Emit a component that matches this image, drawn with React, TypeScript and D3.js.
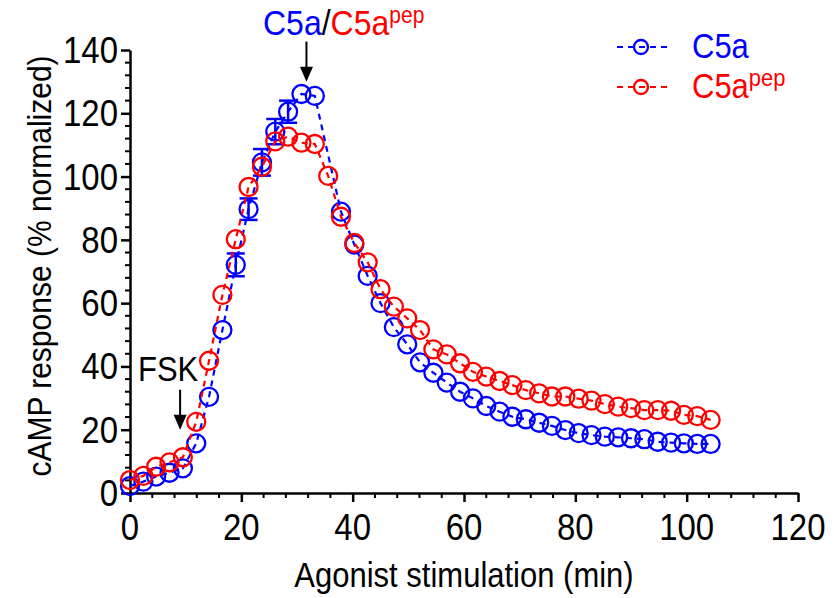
import React, { useEffect, useRef } from 'react';
import * as d3 from 'd3';

// sampling times (min)
const times = [
  0, 2.4, 4.7, 7.1, 9.5, 11.9, 14.2, 16.6, 19.0, 21.3, 23.7, 26.1, 28.4, 30.8, 33.2,
  35.6, 37.9, 40.3, 42.7, 45.0, 47.4, 49.8, 52.1, 54.5, 56.9, 59.3, 61.6, 64.0, 66.4,
  68.7, 71.1, 73.5, 75.8, 78.2, 80.6, 82.9, 85.3, 87.7, 90.0, 92.4, 94.8, 97.2, 99.5,
  101.9, 104.3,
];

// C5a (blue), null = no point
const c5a = [
  2.2, 3.6, 5.2, 6.4, 7.8, 15.7, 30.4, 51.5, 72.1, 89.7, 104.5, 114.2, 120.5, 126.1, 125.5,
  null, 88.9, 78.5, 68.6, 60.0, 52.4, 47.0, 41.3, 38.0, 34.9, 32.0, 29.9, 27.5, 25.7,
  24.1, 23.3, 22.2, 21.2, 19.9, 18.9, 18.3, 17.8, 17.6, 17.3, 17.0, 16.2, 15.9, 15.7,
  15.5, 15.5,
];
const c5aErr = [
  0, 0, 0, 0, 0, 0, 0, 1.5, 3.6, 3.4, 4.2, 4.0, 3.5, 1, 1,
  0, 1, 1, 1, 1, 1, 1, 1, 1, 1, 1, 1, 1, 1,
  1, 1, 1, 1, 1, 1, 1, 1, 1, 1, 1, 1, 1, 1,
  1, 1,
];

// C5a pep (red)
const c5aPep = [
  4.1, 5.4, 8.3, 9.7, 11.3, 22.5, 41.8, 62.6, 80.2, 96.7, 103.1, 111.1, 112.6, 110.7, 110.3,
  100.2, 87.3, 79.0, 72.9, 64.4, 58.9, 55.2, 51.5, 45.4, 43.8, 41.0, 38.3, 36.8, 35.4,
  34.1, 32.5, 31.5, 30.5, 30.5, 29.8, 29.2, 28.1, 27.3, 26.8, 26.2, 26.2, 26.0, 24.7,
  24.3, 23.1,
];

const xTicks = [0, 20, 40, 60, 80, 100, 120];
const yTicks = [0, 20, 40, 60, 80, 100, 120, 140];

const BLUE = '#0000ff';
const RED = '#ff0000';
const FONT = 'Liberation Sans, Arial, sans-serif';
const STRETCH = 1.12; // text in the figure is a bit taller than plain Arial

export default function App() {
  const ref = useRef<SVGSVGElement>(null);
  const width = 834;
  const height = 598;

  useEffect(() => {
    const svg = d3.select(ref.current);
    svg.selectAll('*').remove();

    const x = d3.scaleLinear().domain([0, 120]).range([130, 798]);
    const y = d3.scaleLinear().domain([0, 140]).range([493, 50]);

    // text placed at (tx,ty) baseline, stretched vertically
    const label = (tx: number, ty: number, size: number, anchor = 'start', rotate = 0) =>
      svg.append('text')
        .attr('transform', `translate(${tx},${ty}) rotate(${rotate}) scale(1,${STRETCH})`)
        .attr('text-anchor', anchor)
        .style('font-family', FONT)
        .style('font-size', size + 'px');

    // minor ticks every 4 units
    const xMinor = d3.range(0, 121, 4).filter((v) => v % 20 !== 0);
    const yMinor = d3.range(0, 141, 4).filter((v) => v % 20 !== 0);

    const gx = svg.append('g').attr('transform', `translate(0,${y(0)})`);
    gx.call(d3.axisBottom(x).tickValues(xTicks).tickSize(9).tickSizeOuter(0).tickFormat(() => ''));
    gx.append('g')
      .selectAll('line')
      .data(xMinor)
      .enter()
      .append('line')
      .attr('x1', (d) => x(d))
      .attr('x2', (d) => x(d))
      .attr('y1', 0)
      .attr('y2', 5)
      .attr('stroke', '#000')
      .attr('stroke-width', 2);

    const gy = svg.append('g').attr('transform', `translate(${x(0)},0)`);
    gy.call(d3.axisLeft(y).tickValues(yTicks).tickSize(9).tickSizeOuter(0).tickFormat(() => ''));
    gy.append('g')
      .selectAll('line')
      .data(yMinor)
      .enter()
      .append('line')
      .attr('y1', (d) => y(d))
      .attr('y2', (d) => y(d))
      .attr('x1', 0)
      .attr('x2', -5)
      .attr('stroke', '#000')
      .attr('stroke-width', 2);

    [gx, gy].forEach((g) => {
      g.select('.domain').attr('stroke', '#000').attr('stroke-width', 2.5);
      g.selectAll('.tick line').attr('stroke', '#000').attr('stroke-width', 2.5);
    });

    xTicks.forEach((t) => label(x(t), 540, 33, 'middle').text(String(t)));
    yTicks.forEach((t) => label(118, y(t) + 13, 33, 'end').text(String(t)));

    // axis titles
    label((x(0) + x(120)) / 2, 587, 31, 'middle').text('Agonist stimulation (min)');
    label(51, 266, 30, 'middle', -90).text('cAMP response (% normalized)');

    const drawSeries = (vals: (number | null)[], errs: number[] | null, color: string) => {
      const pts = times
        .map((t, i) => ({ t, v: vals[i], e: errs ? errs[i] : 0 }))
        .filter((p) => p.v !== null) as { t: number; v: number; e: number }[];
      const g = svg.append('g');
      g.append('path')
        .datum(pts)
        .attr('fill', 'none')
        .attr('stroke', color)
        .attr('stroke-width', 2.2)
        .attr('stroke-dasharray', '6,5')
        .attr(
          'd',
          d3.line<{ t: number; v: number }>()
            .x((d) => x(d.t))
            .y((d) => y(d.v))
        );
      const bars = pts.filter((p) => Math.abs(y(p.v + p.e) - y(p.v)) > 9);
      bars.forEach((p) => {
        const top = y(p.v + p.e);
        const bot = y(p.v - p.e);
        g.append('line').attr('x1', x(p.t)).attr('x2', x(p.t)).attr('y1', top).attr('y2', bot)
          .attr('stroke', color).attr('stroke-width', 2.5);
        [top, bot].forEach((yy) => {
          g.append('line').attr('x1', x(p.t) - 9).attr('x2', x(p.t) + 9).attr('y1', yy).attr('y2', yy)
            .attr('stroke', color).attr('stroke-width', 2.5);
        });
      });
      g.selectAll('circle')
        .data(pts)
        .enter()
        .append('circle')
        .attr('cx', (d) => x(d.t))
        .attr('cy', (d) => y(d.v))
        .attr('r', 9)
        .attr('fill', 'none')
        .attr('stroke', color)
        .attr('stroke-width', 2.3);
    };

    drawSeries(c5a, c5aErr, BLUE);
    drawSeries(c5aPep, null, RED);

    // arrows
    const arrow = (t: number, v: number) => {
      const ax = x(t);
      const ay = y(v);
      svg.append('line').attr('x1', ax).attr('x2', ax).attr('y1', ay - 40).attr('y2', ay - 14)
        .attr('stroke', '#000').attr('stroke-width', 2);
      svg.append('path')
        .attr('d', `M${ax - 6.5},${ay - 15}L${ax + 6.5},${ay - 15}L${ax},${ay}Z`)
        .attr('fill', '#000');
    };
    arrow(9, 20);
    arrow(31.7, 130);

    label(138, 381, 31).text('FSK');

    const top = label(263, 35, 32);
    top.append('tspan').attr('fill', BLUE).text('C5a');
    top.append('tspan').attr('fill', '#000').text('/');
    top.append('tspan').attr('fill', RED).text('C5a');
    top.append('tspan').attr('fill', RED).attr('dy', -11).style('font-size', '21px').text('pep');

    // legend
    const legend = [
      { label: 'C5a', color: BLUE, sup: '' },
      { label: 'C5a', color: RED, sup: 'pep' },
    ];
    legend.forEach((l, i) => {
      const ly = 47 + i * 40;
      svg.append('line').attr('x1', 617).attr('x2', 667).attr('y1', ly).attr('y2', ly)
        .attr('stroke', l.color).attr('stroke-width', 2.2).attr('stroke-dasharray', '6,5');
      svg.append('circle').attr('cx', 641).attr('cy', ly).attr('r', 7)
        .attr('fill', 'none').attr('stroke', l.color).attr('stroke-width', 2.3);
      const t = label(692, ly + 11, 31).attr('fill', l.color);
      t.append('tspan').text(l.label);
      if (l.sup) t.append('tspan').attr('dy', -11).style('font-size', '22px').text(l.sup);
    });
  }, []);

  return (
    <svg
      ref={ref}
      width={width}
      height={height}
      style={{ position: 'absolute', left: 0, top: 0, background: '#fff' }}
    />
  );
}
